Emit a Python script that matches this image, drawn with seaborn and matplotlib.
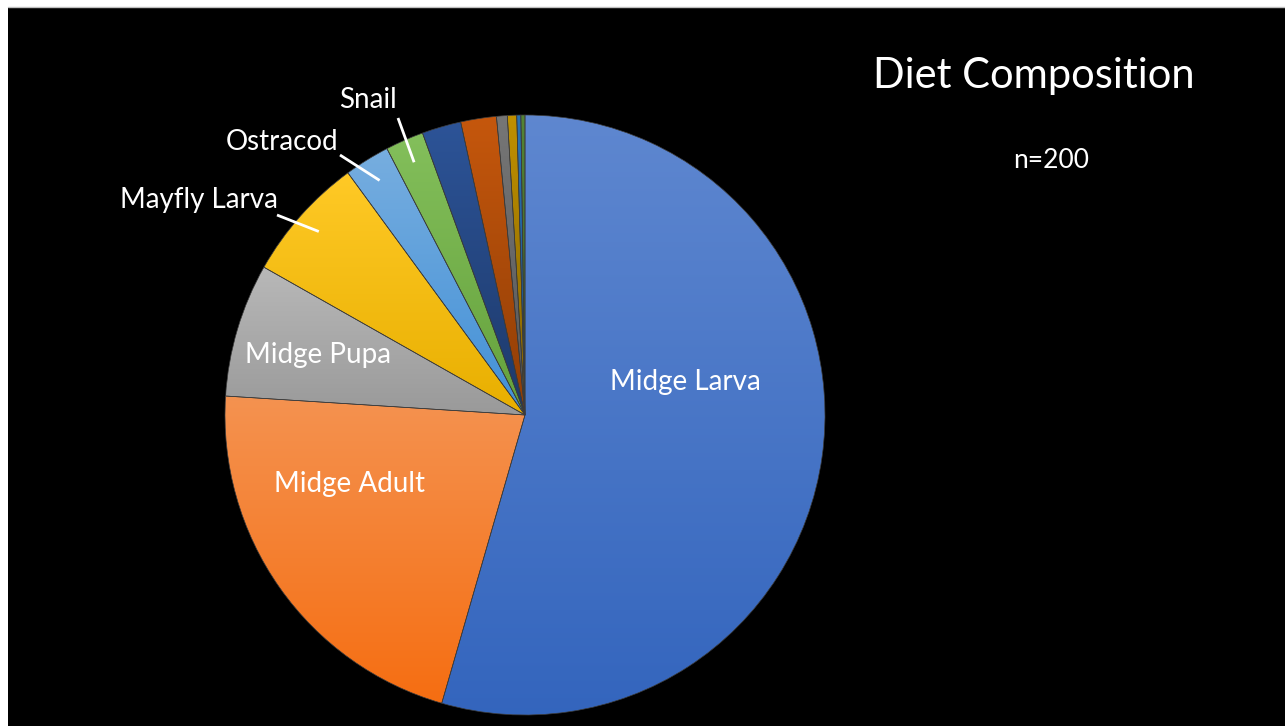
import colorsys
import numpy as np
import matplotlib
matplotlib.use("agg")
import matplotlib.pyplot as plt
from matplotlib.colors import to_rgb
from matplotlib.patches import Rectangle
import seaborn as sns

# diet data (share of items, %), clockwise from 12 o'clock
prey = ["Midge Larva", "Midge Adult", "Midge Pupa", "Mayfly Larva", "Ostracod", "Snail",
        "", "", "", "", "", ""]
percent = [54.47, 21.53, 7.19, 6.75, 2.44, 2.06, 2.11, 1.92, 0.58, 0.50, 0.22, 0.22]
colors = ["#4472C4", "#ED7D31", "#A5A5A5", "#FFC000", "#5B9BD5", "#70AD47",
          "#264478", "#9E480E", "#636363", "#997300", "#255E91", "#43682B"]
title = "Diet Composition"
sample_size = "n=200"

W, H = 1285, 726
CX, CY, R = 525, 415, 300

sns.set_theme(style="white")
plt.rcParams["font.family"] = ["Lato", "DejaVu Sans"]

def fpos(x, y):
    # pixel (from top-left) -> figure fraction
    return x / W, 1 - y / H

def shift(c, dl, smul):
    h, l, s = colorsys.rgb_to_hls(*to_rgb(c))
    return np.array(colorsys.hls_to_rgb(h, min(max(l + dl, 0), 1), min(s * smul, 1)))

fig = plt.figure(figsize=(W / 100, H / 100), dpi=100)
fig.patch.set_facecolor("white")
fig.add_artist(Rectangle((8 / W, 0), 1 - 8 / W, 1 - 7 / H, transform=fig.transFigure,
                         facecolor="black", edgecolor="none", zorder=-2))
fig.add_artist(plt.Line2D([8 / W, 1], [1 - 7 / H, 1 - 7 / H], transform=fig.transFigure,
                          color="#bfbfbf", lw=1, zorder=-1))

ax = fig.add_axes([(CX - R) / W, (H - CY - R) / H, 2 * R / W, 2 * R / H])
ax.set_facecolor("none")
wedges, _ = ax.pie(percent, colors=colors, startangle=90, counterclock=False, radius=1,
                   wedgeprops=dict(edgecolor="#3c3c3c", linewidth=0.5))

# Office-style vertical gradient on each slice
grad = np.linspace(0, 1, 256)[:, None, None]
for w, c in zip(wedges, colors):
    top = shift(c, 0.075, 1.05)
    bot = shift(c, -0.045, 1.1)
    img = top * (1 - grad) + bot * grad
    bb = w.get_path().get_extents()
    im = ax.imshow(img, extent=[bb.x0, bb.x1, bb.y0, bb.y1], origin="upper",
                   aspect="auto", zorder=0.5)
    im.set_clip_path(w)
    w.set_facecolor("none")

ax.set_xlim(-1, 1)
ax.set_ylim(-1, 1)
ax.set_aspect("equal")
ax.set_axis_off()

# labels inside slices
inside = {"Midge Larva": (685, 390), "Midge Adult": (349, 492), "Midge Pupa": (318, 363)}
for name, (x, y) in inside.items():
    fig.text(*fpos(x, y), name, color="white", fontsize=20, ha="center", va="baseline")

# labels outside with leader lines
outside = {"Mayfly Larva": ((199, 208), (277, 215)),
           "Ostracod": ((282, 150), (340, 155)),
           "Snail": ((368, 108), (398, 118))}
for name, ((tx, ty), (lx, ly)) in outside.items():
    fig.text(*fpos(tx, ty), name, color="white", fontsize=20, ha="center", va="baseline")
    w = wedges[prey.index(name)]
    mid = np.deg2rad((w.theta1 + w.theta2) / 2)
    ex, ey = 0.92 * np.cos(mid), 0.92 * np.sin(mid)
    sx, sy = (lx - CX) / R, (CY - ly) / R
    ax.plot([sx, ex], [sy, ey], color="white", lw=2, solid_capstyle="butt", clip_on=False)

fig.text(*fpos(1034, 88), title, color="white", fontsize=30, ha="center", va="baseline")
fig.text(*fpos(1051, 168), sample_size, color="white", fontsize=19, ha="center", va="baseline")

fig.savefig("out.png", dpi=100, facecolor=fig.get_facecolor())
